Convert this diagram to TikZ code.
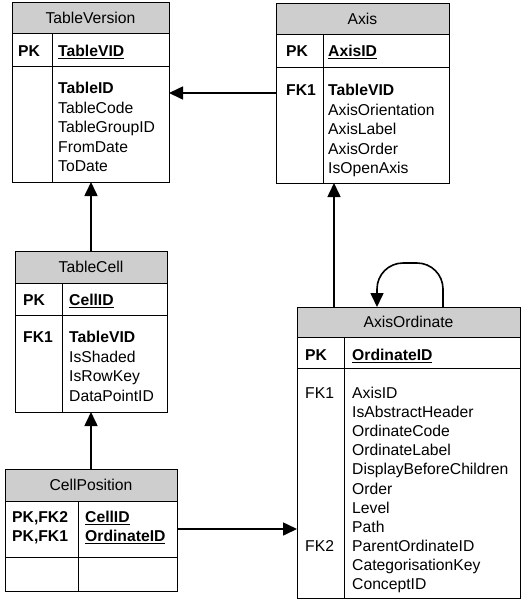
\documentclass[tikz,border=0pt]{standalone}
\usepackage{fontspec}
\setmainfont{Liberation Sans}
\usetikzlibrary{arrows.meta}
\definecolor{headgray}{RGB}{206,206,206}
\newcommand\erfont{\fontsize{15.7}{19}\selectfont}
\begin{document}
\begin{tikzpicture}[x=1pt,y=-1pt,
  frame/.style={draw, line width=1pt, inner sep=0pt, outer sep=0pt, anchor=north west},
  headbar/.style={draw, line width=1pt, fill=headgray, inner sep=0pt, outer sep=0pt, anchor=north west,
    font=\erfont, text height=11pt, text depth=0pt},
  rule/.style={line width=1pt},
  field/.style={inner sep=0pt, anchor=west, font=\erfont, text height=11pt, text depth=0pt},
  keyfield/.style={field, font=\erfont\bfseries},
  link/.style={line width=1.6pt, -{Triangle[length=14pt,width=13pt]}},
]
\useasboundingbox (0,0) rectangle (521,600);

% ---------- TableVersion ----------
\node[frame, minimum width=157pt, minimum height=180pt] (tv) at (12,2) {};
\node[headbar, minimum width=157pt, minimum height=31pt] (tvh) at (12,2) {TableVersion};
\draw[rule] (12,66) -- (169,66);
\draw[rule] (52,33) -- (52,182);
\node[keyfield] (tvpk) at (18,51) {PK};
\node[keyfield] (tvkey) at (58,51) {\underline{TableVID}};
\node[keyfield] (tva0) at (58,88) {TableID};
\foreach \t [count=\i] in {TableCode,TableGroupID,FromDate,ToDate}
  \node[field] (tva\i) at (58,{88+19.5*\i}) {\t};

% ---------- Axis ----------
\node[frame, minimum width=173pt, minimum height=180pt] (ax) at (276,3) {};
\node[headbar, minimum width=173pt, minimum height=31pt] (axh) at (276,3) {Axis};
\draw[rule] (276,67) -- (449,67);
\draw[rule] (323,34) -- (323,183);
\node[keyfield] (axpk) at (286,51) {PK};
\node[keyfield] (axkey) at (328,51) {\underline{AxisID}};
\node[keyfield] (axfk) at (286,90) {FK1};
\node[keyfield] (axa0) at (328,90) {TableVID};
\foreach \t [count=\i] in {AxisOrientation,AxisLabel,AxisOrder,IsOpenAxis}
  \node[field] (axa\i) at (328,{90+19.5*\i}) {\t};

% ---------- TableCell ----------
\node[frame, minimum width=152pt, minimum height=161pt] (tc) at (15,251) {};
\node[headbar, minimum width=152pt, minimum height=32pt] (tch) at (15,251) {TableCell};
\draw[rule] (15,315) -- (167,315);
\draw[rule] (62,283) -- (62,412);
\node[keyfield] (tcpk) at (23,300) {PK};
\node[keyfield] (tckey) at (69,300) {\underline{CellID}};
\node[keyfield] (tcfk) at (23,337) {FK1};
\node[keyfield] (tca0) at (69,337) {TableVID};
\foreach \t [count=\i] in {IsShaded,IsRowKey,DataPointID}
  \node[field] (tca\i) at (69,{337+19.5*\i}) {\t};

% ---------- CellPosition ----------
\node[frame, minimum width=172pt, minimum height=122pt] (cp) at (5,469) {};
\node[headbar, minimum width=172pt, minimum height=32pt] (cph) at (5,469) {CellPosition};
\draw[rule] (5,557) -- (177,557);
\draw[rule] (78,501) -- (78,591);
\node[keyfield] (cppk1) at (12,517) {PK,FK2};
\node[keyfield] (cppk2) at (12,536) {PK,FK1};
\node[keyfield] (cpkey1) at (85,517) {\underline{CellID}};
\node[keyfield] (cpkey2) at (85,536) {\underline{OrdinateID}};

% ---------- AxisOrdinate ----------
\node[frame, minimum width=223pt, minimum height=291pt] (ao) at (297,307) {};
\node[headbar, minimum width=223pt, minimum height=30pt] (aoh) at (297,307) {AxisOrdinate};
\draw[rule] (297,368) -- (520,368);
\draw[rule] (344,337) -- (344,598);
\node[keyfield] (aopk) at (305,355) {PK};
\node[keyfield] (aokey) at (352,355) {\underline{OrdinateID}};
\node[field] (aofk1) at (305,393) {FK1};
\node[field] (aofk2) at (305,546) {FK2};
\foreach \t [count=\i from 0] in {AxisID,IsAbstractHeader,OrdinateCode,OrdinateLabel,
    DisplayBeforeChildren,Order,Level,Path,ParentOrdinateID,CategorisationKey,ConceptID}
  \node[field] (aoa\i) at (352,{393+19.1*\i}) {\t};

% ---------- relationships ----------
\draw[link] (ax.west |- 0,93) -- (tv.east |- 0,93);
\draw[link] (tc.north -| 91,0) -- (tv.south -| 91,0);
\draw[link] (cp.north -| 91,0) -- (tc.south -| 91,0);
\draw[link] (cp.east |- 0,529) -- (ao.west |- 0,529);
\draw[link] (ao.north -| 334,0) -- (ax.south -| 334,0);
\draw[link, rounded corners=26pt] (ao.north -| 443,0) -- (443,263) -- (377,263) -- (ao.north -| 377,0);
\end{tikzpicture}
\end{document}
